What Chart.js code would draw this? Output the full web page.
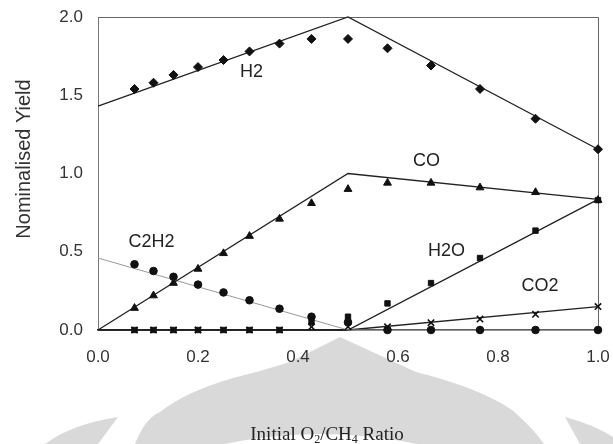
<!DOCTYPE html>
<html>
<head>
<meta charset="utf-8">
<script src="https://cdn.jsdelivr.net/npm/chart.js@4/dist/chart.umd.min.js"></script>
<style>
html,body{margin:0;padding:0;background:#fff;}
canvas{display:block;}
</style>
</head>
<body>
<canvas id="c" width="613" height="444"></canvas>
<script>
// ---- measured data ----
const ratio = [0.073, 0.111, 0.151, 0.2, 0.251, 0.303, 0.363, 0.427, 0.5, 0.579, 0.666, 0.764, 0.875, 1.0];
const h2    = [1.54, 1.58, 1.63, 1.68, 1.725, 1.78, 1.83, 1.86, 1.86, 1.80, 1.69, 1.54, 1.35, 1.155];
const co    = [0.14, 0.22, 0.30, 0.39, 0.49, 0.60, 0.71, 0.81, 0.90, 0.94, 0.94, 0.91, 0.88, 0.83];
const c2h2  = [0.42, 0.377, 0.34, 0.29, 0.24, 0.19, 0.136, 0.085, 0.05, 0.0, 0.0, 0.0, 0.0, 0.0];
const h2o   = [0, 0, 0, 0, 0, 0, 0, 0.05, 0.085, 0.17, 0.30, 0.46, 0.635, 0.83];
const co2   = [0, 0, 0, 0, 0, 0, 0, 0.02, 0.02, 0.02, 0.047, 0.07, 0.10, 0.15];

// model lines
const fitX    = [0, 0.5, 1.0];
const h2Fit   = [1.43, 2.0, 1.155];
const coFit   = [0, 1.0, 0.835];
const c2h2Fit = [0.46, 0, 0];
const h2oFit  = [0, 0, 0.835];
const co2Fit  = [0, 0, 0.15];

// curve labels (data units)
const labelText = ["H2", "CO", "C2H2", "H2O", "CO2"];
const labelX    = [0.307, 0.657, 0.107, 0.697, 0.884];
const labelY    = [1.65, 1.08, 0.564, 0.507, 0.283];

const xTicks = [0, 0.2, 0.4, 0.6, 0.8, 1.0];
const yTicks = [0, 0.5, 1.0, 1.5, 2.0];

const pts = (xs, ys) => xs.map((x, i) => ({x: x, y: ys[i]}));

const SANS = '"Liberation Sans", Arial, sans-serif';
const SERIF = '"Liberation Serif", "Times New Roman", serif';

const watermark = {
  id: 'watermark',
  beforeDraw(chart) {
    const ctx = chart.ctx;
    ctx.save();
    ctx.fillStyle = '#fff';
    ctx.fillRect(0, 0, chart.width, chart.height);
    ctx.fillStyle = '#d9d9d9';
    // central dome
    ctx.beginPath();
    ctx.moveTo(135, 444);
    ctx.quadraticCurveTo(145, 418, 160, 412);
    ctx.quadraticCurveTo(185, 392, 233, 378);
    ctx.quadraticCurveTo(262, 371, 290, 362);
    ctx.lineTo(340, 337);
    ctx.lineTo(416, 372);
    ctx.quadraticCurveTo(480, 388, 512, 410);
    ctx.quadraticCurveTo(533, 428, 544, 444);
    ctx.lineTo(417, 444);
    ctx.quadraticCurveTo(320, 424, 225, 444);
    ctx.closePath();
    ctx.fill();
    // left blade
    ctx.beginPath();
    ctx.moveTo(45, 444);
    ctx.quadraticCurveTo(72, 424, 118, 417);
    ctx.lineTo(98, 444);
    ctx.closePath();
    ctx.fill();
    // right blade
    ctx.beginPath();
    ctx.moveTo(565, 417);
    ctx.quadraticCurveTo(595, 425, 613, 437);
    ctx.lineTo(613, 444);
    ctx.lineTo(580, 444);
    ctx.closePath();
    ctx.fill();
    ctx.restore();
  }
};

const deco = {
  id: 'deco',
  beforeDatasetsDraw(chart) {
    const a = chart.chartArea, ctx = chart.ctx;
    ctx.save();
    ctx.strokeStyle = '#666';
    ctx.lineWidth = 1;
    ctx.beginPath();
    ctx.moveTo(a.left, a.top + 0.5);
    ctx.lineTo(a.right + 0.5, a.top + 0.5);
    ctx.lineTo(a.right + 0.5, a.bottom);
    ctx.stroke();
    ctx.restore();
  },
  afterDraw(chart) {
    const ctx = chart.ctx, xs = chart.scales.x, ys = chart.scales.y;
    ctx.save();
    // curve labels
    ctx.fillStyle = '#222';
    ctx.font = '18px ' + SANS;
    ctx.textAlign = 'center';
    ctx.textBaseline = 'middle';
    labelText.forEach((t, i) => {
      ctx.fillText(t, xs.getPixelForValue(labelX[i]), ys.getPixelForValue(labelY[i]));
    });
    // y title
    ctx.save();
    ctx.translate(24, 159);
    ctx.rotate(-Math.PI / 2);
    ctx.font = '20px ' + SANS;
    ctx.fillStyle = '#333';
    ctx.fillText('Nominalised Yield', 0, 0);
    ctx.restore();
    // x title with subscripts
    const parts = [['Initial O', false], ['2', true], ['/CH', false], ['4', true], [' Ratio', false]];
    const big = '19px ' + SERIF, small = '12px ' + SERIF;
    let w = 0;
    parts.forEach(p => { ctx.font = p[1] ? small : big; w += ctx.measureText(p[0]).width; });
    let x = 327 - w / 2;
    const base = 440;
    ctx.textAlign = 'left';
    ctx.textBaseline = 'alphabetic';
    ctx.fillStyle = '#222';
    parts.forEach(p => {
      ctx.font = p[1] ? small : big;
      ctx.fillText(p[0], x, base + (p[1] ? 3 : 0));
      x += ctx.measureText(p[0]).width;
    });
    ctx.restore();
  }
};

const lineDs = (ys, color, width) => ({
  type: 'line', data: pts(fitX, ys), borderColor: color, borderWidth: width,
  pointRadius: 0, fill: false, tension: 0, clip: false, order: 2
});
const ptDs = (ys, style, r, bw) => ({
  type: 'scatter', data: pts(ratio, ys), pointStyle: style, pointRadius: r,
  backgroundColor: '#111', borderColor: '#111', borderWidth: bw || 1, clip: false, order: 1
});

new Chart(document.getElementById('c'), {
  data: {
    datasets: [
      lineDs(h2Fit, '#222', 1.3),
      lineDs(coFit, '#222', 1.3),
      lineDs(c2h2Fit, '#9a9a9a', 1),
      lineDs(h2oFit, '#222', 1.3),
      lineDs(co2Fit, '#222', 1.3),
      ptDs(h2, 'rectRot', 4.5),
      ptDs(co, 'triangle', 4.5),
      ptDs(c2h2, 'circle', 3.8),
      ptDs(h2o, 'rect', 3.8),
      ptDs(co2, 'crossRot', 4.5, 1.6)
    ]
  },
  options: {
    responsive: false,
    devicePixelRatio: 1,
    animation: false,
    layout: {padding: {top: 17, right: 15, left: 0, bottom: 0}},
    plugins: {legend: {display: false}, tooltip: {enabled: false}},
    scales: {
      x: {
        type: 'linear', min: 0, max: 1,
        afterFit(s) { s.height = 114; s.paddingLeft = 0; s.paddingRight = 0; },
        afterBuildTicks(s) { s.ticks = xTicks.map(v => ({value: v})); },
        ticks: {callback: v => v.toFixed(1), font: {family: SANS, size: 17}, color: '#333', padding: 17, maxRotation: 0},
        grid: {display: false, drawTicks: false},
        border: {color: '#222', width: 1.5}
      },
      y: {
        type: 'linear', min: 0, max: 2,
        afterFit(s) { s.width = 98; s.paddingTop = 0; s.paddingBottom = 0; },
        afterBuildTicks(s) { s.ticks = yTicks.map(v => ({value: v})); },
        ticks: {callback: v => v.toFixed(1), font: {family: SANS, size: 17}, color: '#333', padding: 15},
        grid: {display: false, drawTicks: false},
        border: {color: '#777', width: 1}
      }
    }
  },
  plugins: [watermark, deco]
});
</script>
</body>
</html>
